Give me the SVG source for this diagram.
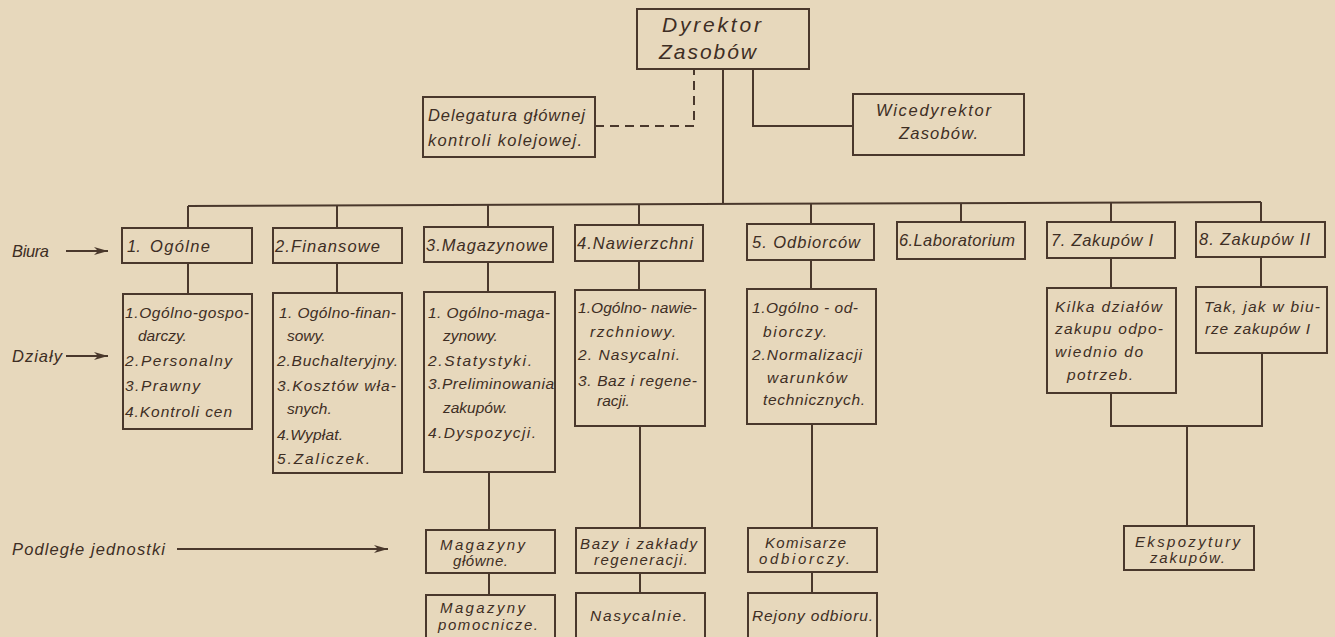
<svg xmlns="http://www.w3.org/2000/svg" width="1335" height="637" viewBox="0 0 1335 637">
<style>
.bx{fill:none;stroke:#4a382c;stroke-width:2}
.ln{fill:none;stroke:#4a382c;stroke-width:2}
.ds{fill:none;stroke:#4a382c;stroke-width:2;stroke-dasharray:9 6}
text{font-family:"Liberation Sans",Arial,sans-serif;font-style:italic;fill:#3e2e24}
.t20{font-size:21px;letter-spacing:1px}
.t16{font-size:16.5px}
.t15{font-size:15.5px}
.t14{font-size:15px}
</style>
<defs>
<marker id="ah" markerUnits="userSpaceOnUse" markerWidth="16" markerHeight="10" refX="14" refY="5" orient="auto">
<path d="M0,1 L14,5 L0,9 L4,5 z" fill="#4a382c"/>
</marker>
</defs>
<rect x="0" y="0" width="1335" height="637" fill="#e7d8bc"/>

<g id="connectors">
<path class="ds" d="M595,126 H694 V69"/>
<path class="ln" d="M753,69 V126 H853"/>
<path class="ln" d="M723,69 V204"/>
<path class="ln" d="M188,206 L1261,202"/>
<path class="ln" d="M188,206 V228 M337,205 V228 M488,205 V227 M639,204 V225 M811,204 V224 M961,203 V222 M1111,203 V222 M1261,202 V222"/>
<path class="ln" d="M188,263 V294 M337,263 V293 M488,262 V292 M639,261 V290 M811,260 V289 M1111,258 V288 M1261,257 V287"/>
<path class="ln" d="M489,472 V530 M489,573 V595"/>
<path class="ln" d="M640,426 V528 M640,573 V593"/>
<path class="ln" d="M812,424 V528 M812,572 V593"/>
<path class="ln" d="M1111,393 V426 H1262 V353 M1187,426 V526"/>
<path class="ln" d="M66,251 H108" marker-end="url(#ah)"/>
<path class="ln" d="M66,356 H108" marker-end="url(#ah)"/>
<path class="ln" d="M177,549 H388" stroke-width="1.6" marker-end="url(#ah)"/>
</g>

<g id="labels">
<text class="t16" x="12" y="257" textLength="37">Biura</text>
<text class="t16" x="12" y="362" textLength="50">Działy</text>
<text class="t16" x="12" y="555" textLength="153">Podległe jednostki</text>
</g>

<g id="dyrektor">
<rect class="bx" x="637" y="9" width="172" height="60"/>
<text class="t20" x="662" y="32" textLength="100">Dyrektor</text>
<text class="t20" x="659" y="59" textLength="98">Zasobów</text>
</g>

<g id="delegatura">
<rect class="bx" x="423" y="97" width="172" height="60"/>
<text class="t16" x="428" y="121" textLength="157">Delegatura głównej</text>
<text class="t16" x="428" y="146" textLength="154">kontroli kolejowej.</text>
</g>

<g id="wicedyrektor">
<rect class="bx" x="853" y="94" width="171" height="61"/>
<text class="t16" x="876" y="116" textLength="115">Wicedyrektor</text>
<text class="t16" x="899" y="139" textLength="79">Zasobów.</text>
</g>

<g id="biuro1">
<rect class="bx" x="122" y="228" width="130" height="35"/>
<text class="t16" x="127" y="252">1.</text>
<text class="t16" x="150" y="252" textLength="60">Ogólne</text>
</g>
<g id="biuro2">
<rect class="bx" x="273" y="228" width="129" height="35"/>
<text class="t16" x="275" y="252" textLength="105">2.Finansowe</text>
</g>
<g id="biuro3">
<rect class="bx" x="424" y="227" width="129" height="35"/>
<text class="t16" x="426" y="251" textLength="122">3.Magazynowe</text>
</g>
<g id="biuro4">
<rect class="bx" x="575" y="225" width="128" height="36"/>
<text class="t16" x="577" y="249" textLength="116">4.Nawierzchni</text>
</g>
<g id="biuro5">
<rect class="bx" x="747" y="224" width="127" height="36"/>
<text class="t16" x="752" y="248" textLength="108">5. Odbiorców</text>
</g>
<g id="biuro6">
<rect class="bx" x="897" y="222" width="128" height="37"/>
<text class="t16" x="899" y="246" textLength="116">6.Laboratorium</text>
</g>
<g id="biuro7">
<rect class="bx" x="1047" y="222" width="128" height="36"/>
<text class="t16" x="1051" y="246" textLength="102">7. Zakupów I</text>
</g>
<g id="biuro8">
<rect class="bx" x="1196" y="222" width="129" height="35"/>
<text class="t16" x="1199" y="245" textLength="111">8. Zakupów II</text>
</g>

<g id="dzialy1">
<rect class="bx" x="123" y="294" width="129" height="135"/>
<text class="t15" x="125" y="318" textLength="124">1.Ogólno-gospo-</text>
<text class="t15" x="138" y="341">darczy.</text>
<text class="t15" x="125" y="366" textLength="107">2.Personalny</text>
<text class="t15" x="125" y="391" textLength="75">3.Prawny</text>
<text class="t15" x="125" y="417" textLength="107">4.Kontroli cen</text>
</g>
<g id="dzialy2">
<rect class="bx" x="273" y="293" width="129" height="180"/>
<text class="t15" x="279" y="318" textLength="117">1. Ogólno-finan-</text>
<text class="t15" x="287" y="341">sowy.</text>
<text class="t15" x="277" y="366" textLength="121">2.Buchalteryjny.</text>
<text class="t15" x="277" y="391" textLength="119">3.Kosztów wła-</text>
<text class="t15" x="287" y="414">snych.</text>
<text class="t15" x="277" y="440" textLength="66">4.Wypłat.</text>
<text class="t15" x="277" y="464" textLength="93">5.Zaliczek.</text>
</g>
<g id="dzialy3">
<rect class="bx" x="424" y="292" width="131" height="180"/>
<text class="t15" x="428" y="318" textLength="122">1. Ogólno-maga-</text>
<text class="t15" x="443" y="341">zynowy.</text>
<text class="t15" x="428" y="366" textLength="104">2.Statystyki.</text>
<text class="t15" x="428" y="389" textLength="126">3.Preliminowania</text>
<text class="t15" x="443" y="413">zakupów.</text>
<text class="t15" x="428" y="438" textLength="108">4.Dyspozycji.</text>
</g>
<g id="dzialy4">
<rect class="bx" x="575" y="290" width="130" height="136"/>
<text class="t15" x="578" y="313" textLength="119">1.Ogólno- nawie-</text>
<text class="t15" x="590" y="337" textLength="86">rzchniowy.</text>
<text class="t15" x="578" y="360" textLength="102">2. Nasycalni.</text>
<text class="t15" x="578" y="386" textLength="119">3. Baz i regene-</text>
<text class="t15" x="597" y="406">racji.</text>
</g>
<g id="dzialy5">
<rect class="bx" x="747" y="289" width="129" height="135"/>
<text class="t15" x="752" y="313" textLength="106">1.Ogólno - od-</text>
<text class="t15" x="763" y="337" textLength="64">biorczy.</text>
<text class="t15" x="752" y="360" textLength="110">2.Normalizacji</text>
<text class="t15" x="767" y="383" textLength="80">warunków</text>
<text class="t15" x="763" y="405" textLength="102">technicznych.</text>
</g>
<g id="dzialy7">
<rect class="bx" x="1047" y="288" width="129" height="105"/>
<text class="t15" x="1055" y="312" textLength="107">Kilka działów</text>
<text class="t15" x="1055" y="334" textLength="108">zakupu odpo-</text>
<text class="t15" x="1055" y="357" textLength="88">wiednio do</text>
<text class="t15" x="1067" y="380" textLength="66">potrzeb.</text>
</g>
<g id="dzialy8">
<rect class="bx" x="1196" y="287" width="131" height="66"/>
<text class="t15" x="1204" y="312" textLength="116">Tak, jak w biu-</text>
<text class="t15" x="1205" y="334" textLength="105">rze zakupów I</text>
</g>

<g id="magazyny-glowne">
<rect class="bx" x="426" y="530" width="129" height="43"/>
<text class="t14" x="440" y="550" textLength="85">Magazyny</text>
<text class="t14" x="453" y="566" textLength="55">główne.</text>
</g>
<g id="magazyny-pomocnicze">
<rect class="bx" x="426" y="595" width="129" height="50"/>
<text class="t14" x="440" y="613" textLength="85">Magazyny</text>
<text class="t14" x="438" y="630" textLength="100">pomocnicze.</text>
</g>
<g id="bazy">
<rect class="bx" x="576" y="528" width="129" height="45"/>
<text class="t14" x="580" y="549" textLength="117">Bazy i zakłady</text>
<text class="t14" x="594" y="565" textLength="94">regeneracji.</text>
</g>
<g id="nasycalnie">
<rect class="bx" x="576" y="593" width="129" height="52"/>
<text class="t15" x="590" y="621" textLength="97">Nasycalnie.</text>
</g>
<g id="komisarze">
<rect class="bx" x="748" y="528" width="129" height="44"/>
<text class="t14" x="765" y="548" textLength="81">Komisarze</text>
<text class="t14" x="759" y="564" textLength="91">odbiorczy.</text>
</g>
<g id="rejony">
<rect class="bx" x="748" y="593" width="129" height="52"/>
<text class="t15" x="752" y="621" textLength="121">Rejony odbioru.</text>
</g>
<g id="ekspozytury">
<rect class="bx" x="1124" y="526" width="130" height="44"/>
<text class="t14" x="1135" y="547" textLength="105">Ekspozytury</text>
<text class="t14" x="1150" y="563" textLength="75">zakupów.</text>
</g>
</svg>
